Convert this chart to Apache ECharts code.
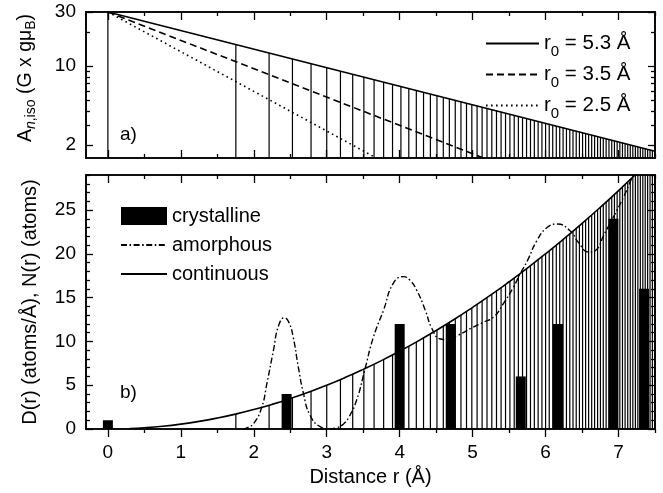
<!DOCTYPE html>
<html><head><meta charset="utf-8">
<script src="https://cdn.jsdelivr.net/npm/echarts@6/dist/echarts.min.js"></script>
<style>html,body{margin:0;padding:0;background:#fff}#c{width:663px;height:493px}</style>
</head><body><div id="c"></div>
<script>
// ---------- data ----------
const xTickLabels = [0, 1, 2, 3, 4, 5, 6, 7];
const xMinorTicks = [0.5, 1.5, 2.5, 3.5, 4.5, 5.5, 6.5, 7.5];
const topYLabels = [2, 10, 30];
const topYMinor = [3, 4, 5, 6, 7, 8, 9, 20];
const botYLabels = [0, 5, 10, 15, 20, 25];
const botYMinor = [1,2,3,4,6,7,8,9,11,12,13,14,16,17,18,19,21,22,23,24,26,27,28,29];

// shell distances (Å)
const shellR = [1.754,2.210,2.530,2.785,3.000,3.188,3.356,3.509,3.649,3.780,
3.902,4.017,4.125,4.228,4.327,4.421,4.511,4.598,4.681,4.762,
4.840,4.916,4.989,5.061,5.130,5.197,5.263,5.327,5.390,5.451,
5.511,5.570,5.627,5.684,5.739,5.793,5.846,5.898,5.950,6.000,
6.050,6.098,6.147,6.194,6.240,6.286,6.332,6.376,6.420,6.464,
6.507,6.549,6.590,6.632,6.672,6.713,6.752,6.791,6.830,6.869,
6.907,6.944,6.981,7.018,7.054,7.090,7.126,7.161,7.196,7.231,
7.265,7.299,7.333,7.366,7.399,7.432,7.464,7.496];
// hyperfine coupling at each shell (top panel sticks), plus centre site
const centreR = 0, centreA = 30;
const shellA = [15.47,13.03,11.55,10.49,9.67,9.01,8.46,7.98,7.57,7.20,
6.88,6.59,6.33,6.08,5.86,5.66,5.47,5.29,5.13,4.97,
4.83,4.69,4.56,4.44,4.33,4.22,4.12,4.02,3.93,3.84,
3.75,3.67,3.59,3.51,3.44,3.37,3.30,3.24,3.18,3.12,
3.06,3.00,2.95,2.90,2.85,2.80,2.75,2.70,2.66,2.62,
2.57,2.53,2.50,2.46,2.42,2.38,2.35,2.31,2.28,2.25,
2.21,2.18,2.15,2.12,2.09,2.07,2.04,2.01,1.99,1.96,
1.93,1.91,1.88,1.86,1.84,1.82,1.79,1.77];
// continuous D(r) at each shell (bottom panel sticks)
const shellD = [1.71,2.71,3.56,4.31,5.00,5.65,6.26,6.84,7.40,7.94,
8.46,8.96,9.45,9.93,10.40,10.86,11.31,11.75,12.18,12.60,
13.02,13.43,13.83,14.23,14.62,15.01,15.39,15.77,16.14,16.51,
16.88,17.24,17.59,17.95,18.30,18.64,18.99,19.33,19.67,20.00,
20.33,20.66,20.99,21.31,21.63,21.95,22.27,22.59,22.90,23.21,
23.52,23.82,24.13,24.43,24.73,25.03,25.33,25.62,25.92,26.21,
26.50,26.79,27.07,27.36,27.64,27.93,28.21,28.49,28.77,29.04,
29.32,29.60,29.87,30.14,30.41,30.68,30.95,31.22];

// top panel decay lines (endpoints)
const solidR = [0, 7.5],  solidA = [30, 1.77];
const dashR  = [0, 5.15], dashA  = [30, 1.54];
const dotR   = [0, 3.68], dotA   = [30, 1.54];

// crystalline shells
const crystR = [0, 2.45, 4.00, 4.70, 5.66, 6.17, 6.93, 7.35];
const crystN = [1, 4, 12, 12, 6, 12, 24, 16];

// amorphous RDF
const amorphR = [1.85,1.90,2.00,2.11,2.18,2.27,2.34,2.42,2.48,2.54,2.61,2.68,2.77,2.91,3.04,3.14,3.22,3.30,3.41,3.52,3.64,3.78,3.91,4.05,4.14,4.23,4.35,4.44,4.55,4.65,4.80,5.00,5.15,5.29,5.42,5.56,5.65,5.75,5.88,6.02,6.16,6.34,6.45,6.59,6.70,6.79,6.93,7.07,7.18,7.30];
const amorphD = [0,0.1,0.65,2.5,5.2,9.0,11.8,12.7,12.2,10.5,7.1,4.1,1.6,0.26,0,0.15,0.5,1.3,3.3,6.7,10.5,13.6,16.6,17.4,17.0,15.9,13.6,11.5,10.3,10.2,10.7,11.6,12.2,12.8,14.3,16.2,17.7,19.2,21.5,23.0,23.4,22.6,21.3,20.2,20.5,22.0,24.2,26.5,28.6,30.8];

// continuous D(r)
const contR = [0.3,0.5,0.75,1,1.25,1.5,1.75,2,2.25,2.5,2.75,3,3.25,3.5,3.75,4,4.25,4.5,4.75,5,5.25,5.5,5.75,6,6.25,6.5,6.75,7,7.25,7.5];
const contD = [0.05,0.139,0.313,0.556,0.868,1.25,1.70,2.22,2.81,3.47,4.20,5.00,5.87,6.81,7.81,8.89,10.03,11.25,12.53,13.89,15.31,16.81,18.37,20.00,21.70,23.47,25.31,27.22,29.20,31.25];

// ---------- chart ----------
const FONT = '"Liberation Sans", Arial, sans-serif';
const X_MIN = -0.3, X_MAX = 7.5;
const TOP_MIN = Math.log10(1.54), TOP_MAX = Math.log10(30);
const BOT_MIN = 0, BOT_MAX = 29;
const L = v => Math.log10(v);
const zip = (a, b, f) => a.map((v, i) => [v, f ? f(b[i]) : b[i]]);

function axis(kind, gi, pos, min, max, ticks, len, inside, labelVals, fmt, extra) {
  const a = {
    type: 'value', gridIndex: gi, position: pos, min: min, max: max,
    axisLine: { show: true, onZero: false, lineStyle: { color: '#000', width: 1.6 } },
    axisTick: { show: true, inside: inside, length: len, customValues: ticks, lineStyle: { color: '#000', width: 1.3 } },
    axisLabel: labelVals ? { show: true, customValues: labelVals, color: '#000', fontFamily: FONT, fontSize: 19,
      margin: kind === 'x' ? 14 : 10, formatter: fmt } : { show: false },
    splitLine: { show: false }
  };
  return Object.assign(a, extra || {});
}

const xAxes = [
  axis('x', 0, 'bottom', X_MIN, X_MAX, xTickLabels, 8, true),
  axis('x', 0, 'bottom', X_MIN, X_MAX, xMinorTicks, 4, true),
  axis('x', 0, 'top', X_MIN, X_MAX, xTickLabels, 8, true),
  axis('x', 0, 'top', X_MIN, X_MAX, xMinorTicks, 4, true),
  axis('x', 1, 'bottom', X_MIN, X_MAX, xTickLabels, 8, false, xTickLabels, v => String(v), {
    name: 'Distance r (Å)', nameLocation: 'middle', nameGap: 38,
    nameTextStyle: { color: '#000', fontFamily: FONT, fontSize: 20 } }),
  axis('x', 1, 'bottom', X_MIN, X_MAX, xMinorTicks, 4, false),
  axis('x', 1, 'top', X_MIN, X_MAX, xTickLabels, 8, true),
  axis('x', 1, 'top', X_MIN, X_MAX, xMinorTicks, 4, true)
];
const subA = { fontFamily: FONT, fontSize: 14, lineHeight: 12, padding: [10, 0, 0, 0], color: '#000' };
const yAxes = [
  axis('y', 0, 'left', TOP_MIN, TOP_MAX, topYLabels.map(L), 7, true, topYLabels.map(L),
    v => String(Math.round(Math.pow(10, v))), {
    name: '{m|A}{i|n}{s|,iso}{m| (G x gμ}{s|B}{m|)}', nameLocation: 'middle', nameGap: 49,
    nameTextStyle: { color: '#000', fontFamily: FONT, fontSize: 19, padding: [0, 0, 0, 14], rich: {
      m: { fontFamily: FONT, fontSize: 19.5, lineHeight: 22, color: '#000' },
      s: subA,
      i: Object.assign({}, subA, { fontStyle: 'italic' }) } } }),
  axis('y', 0, 'left', TOP_MIN, TOP_MAX, topYMinor.map(L), 4, true),
  axis('y', 0, 'right', TOP_MIN, TOP_MAX, topYLabels.map(L), 7, true),
  axis('y', 0, 'right', TOP_MIN, TOP_MAX, topYMinor.map(L), 4, true),
  axis('y', 1, 'left', BOT_MIN, BOT_MAX, botYLabels, 7, true, botYLabels, v => String(v), {
    name: 'D(r) (atoms/Å), N(r) (atoms)', nameLocation: 'middle', nameGap: 46,
    nameTextStyle: { color: '#000', fontFamily: FONT, fontSize: 20 } }),
  axis('y', 1, 'left', BOT_MIN, BOT_MAX, botYMinor, 4, true),
  axis('y', 1, 'right', BOT_MIN, BOT_MAX, botYLabels, 7, true),
  axis('y', 1, 'right', BOT_MIN, BOT_MAX, botYMinor, 4, true)
];

function sticks(xi, yi, data, base) {
  return {
    type: 'custom', xAxisIndex: xi, yAxisIndex: yi, clip: true, silent: true, z: 1,
    data: data,
    renderItem: function (params, api) {
      const x = api.value(0), y = api.value(1);
      const p0 = api.coord([x, base]), p1 = api.coord([x, y]);
      const top = params.coordSys.y;
      return { type: 'line', shape: { x1: p0[0], y1: p0[1], x2: p1[0], y2: Math.max(p1[1], top) },
        style: { stroke: '#000', lineWidth: 1.2 } };
    }
  };
}

const noSym = { opacity: 0 };
const topSticks = [[centreR, L(centreA)]].concat(zip(shellR, shellA, L));
const option = {
  animation: false,
  backgroundColor: '#fff',
  grid: [
    { left: 86, right: 8, top: 12, height: 146 },
    { left: 86, right: 8, top: 175, height: 254 }
  ],
  xAxis: xAxes,
  yAxis: yAxes,
  legend: [
    { orient: 'vertical', left: 485, top: 28, padding: 0, itemWidth: 53, itemHeight: 20, itemGap: 0,
      data: [{ name: 'r0 = 5.3 Å', itemStyle: noSym }, { name: 'r0 = 3.5 Å', itemStyle: noSym }, { name: 'r0 = 2.5 Å', itemStyle: noSym }],
      formatter: n => '{m|r}{s|0}{m|' + n.slice(2) + '}',
      textStyle: { color: '#000', fontFamily: FONT, fontSize: 20, rich: {
        m: { fontFamily: FONT, fontSize: 20.5, lineHeight: 20, color: '#000' },
        s: { fontFamily: FONT, fontSize: 15, lineHeight: 10, padding: [16, 0, 0, 0], color: '#000' } } },
      selectedMode: false },
    { orient: 'vertical', left: 120, top: 206, padding: 0, itemWidth: 46, itemHeight: 18, itemGap: 9,
      data: [{ name: 'crystalline', icon: 'rect' }, { name: 'amorphous', itemStyle: noSym }, { name: 'continuous', itemStyle: noSym }],
      textStyle: { color: '#000', fontFamily: FONT, fontSize: 20, lineHeight: 18 },
      selectedMode: false }
  ],
  graphic: [
    { type: 'text', left: 120, top: 125, style: { text: 'a)', font: '19px ' + FONT, fill: '#000' } },
    { type: 'text', left: 120, top: 383, style: { text: 'b)', font: '19px ' + FONT, fill: '#000' } }
  ],
  series: [
    sticks(0, 0, topSticks, TOP_MIN),
    { name: 'r0 = 5.3 Å', type: 'line', xAxisIndex: 0, yAxisIndex: 0, data: zip(solidR, solidA, L),
      symbol: 'none', lineStyle: { color: '#000', width: 1.6, type: 'solid' }, itemStyle: { color: '#000' }, z: 3 },
    { name: 'r0 = 3.5 Å', type: 'line', xAxisIndex: 0, yAxisIndex: 0, data: zip(dashR, dashA, L),
      symbol: 'none', lineStyle: { color: '#000', width: 1.6, type: [7, 4] }, itemStyle: { color: '#000' }, z: 3 },
    { name: 'r0 = 2.5 Å', type: 'line', xAxisIndex: 0, yAxisIndex: 0, data: zip(dotR, dotA, L),
      symbol: 'none', lineStyle: { color: '#000', width: 1.6, type: [1.6, 3.4] }, itemStyle: { color: '#000' }, z: 3 },
    sticks(4, 4, zip(shellR, shellD), 0),
    { name: 'crystalline', type: 'bar', xAxisIndex: 4, yAxisIndex: 4, data: zip(crystR, crystN),
      barWidth: 10, itemStyle: { color: '#000' }, z: 2 },
    { name: 'continuous', type: 'line', xAxisIndex: 4, yAxisIndex: 4, data: zip(contR, contD), smooth: true,
      symbol: 'none', lineStyle: { color: '#000', width: 1.6 }, itemStyle: { color: '#000' }, z: 3 },
    { name: 'amorphous', type: 'line', xAxisIndex: 4, yAxisIndex: 4, data: zip(amorphR, amorphD), smooth: true,
      symbol: 'none', lineStyle: { color: '#000', width: 1.4, type: [6, 2.5, 1.6, 2.5] }, itemStyle: { color: '#000' }, z: 4 }
  ]
};
const chart = echarts.init(document.getElementById('c'), null, { renderer: 'canvas' });
chart.setOption(option);
</script></body></html>
